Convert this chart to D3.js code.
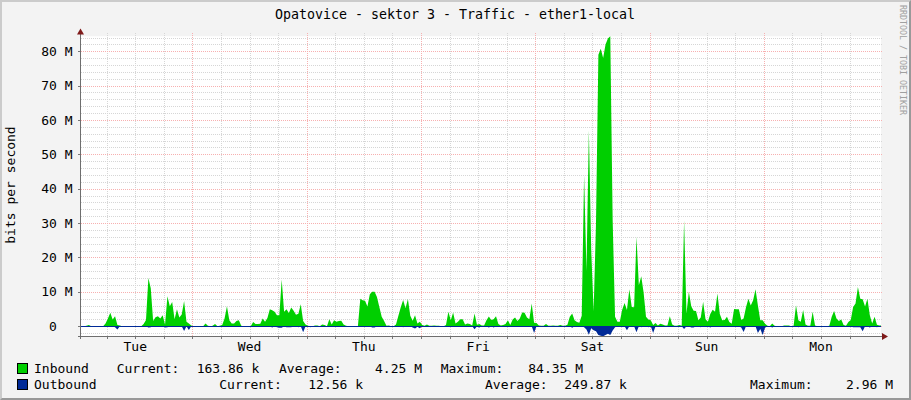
<!DOCTYPE html>
<html lang="en">
<head>
    <meta charset="UTF-8">
    <title>Opatovice - sektor 3 - Traffic - ether1-local</title>
    <script src="https://d3js.org/d3.v7.min.js"></script>
    <style>
        body{margin:0;background:#f3f3f3;}
        svg{display:block;}
        text{font-family:"DejaVu Sans Mono",monospace;font-size:13px;fill:#000;}
    </style>
</head>
<body>
<svg id="chart" width="911" height="400"></svg>
</body>
<script>
    const chartTitle = 'Opatovice - sektor 3 - Traffic - ether1-local';
    const yTitle = 'bits per second';
    const watermark = 'RRDTOOL / TOBI OETIKER';
    const dayLabels = ['Tue','Wed','Thu','Fri','Sat','Sun','Mon'];
    const yMajorTicks = [0,10,20,30,40,50,60,70,80];

    // half hour samples in Mbit/s, one list per day
    const inTue = [0,0,0,.1,.3,0,0,0,0,0,0,.8,2.2,3.9,1.9,2.9,.3,.2,0,0,0,0,0,0,0,0,0,.6,1.8,14,11,1.5,2.6,2.9,2.2,3.2,.4,8.7,5.8,7,2,4.9,2.5,3.4,7.3,1.3,.8,.2];
    const inWed = [0,0,0,0,0,.8,.1,0,.1,.6,0,.1,.3,2.2,5.8,1.7,.8,.8,1.5,1.7,.1,0,0,0,0,1.2,.6,.6,.7,2.2,1.3,2.4,4.9,4.6,4.2,3.2,3.2,13.6,4.2,4.9,3.8,5.4,4.5,3.3,3.6,6.4,1.5,.5];
    const inThu = [.1,0,0,.2,.2,0,.5,.3,0,2,.5,1.7,1.3,1.5,1.6,.5,.1,0,0,0,0,0,8,7.5,7.4,5.7,9.3,10,10,8.5,5.6,2.7,1.5,.1,.2,0,0,.5,3,5.5,7.6,5.2,7.9,3,1.6,3.2,.8,1.3];
    const inFri = [.3,.1,.5,.1,.1,.2,.1,.1,0,0,.3,4.2,1.7,4,.8,1.3,2,2,.5,.8,.6,.2,3.7,.4,.6,.2,.2,1.7,2.8,1.8,2,2.9,.6,.2,.3,.6,1.7,.3,1.9,2.5,1.5,2.2,4,3.9,2.5,2,6.6,1];
    const inSat = [.9,.2,.1,.1,.6,.1,.1,.2,.1,.1,.3,.1,.1,.4,2.7,3.7,1.7,1.2,1,3,44,16,57,22,4.4,30,79,80.7,78,82,83.7,84.35,30.8,2.7,1.3,1.3,4.8,6.7,4.7,10.7,5.6,5.5,26,11.9,14.5,9.8,2.7,1.9];
    const inSun = [1.7,.3,.9,.2,.7,.5,.2,.2,2.9,.5,.1,.1,.3,.1,30.8,3.7,10,5.8,4.5,4.4,1.7,2.5,7.1,2,1.3,3.5,4.8,4.2,9.5,3.5,1.7,1.8,2.7,1.2,.7,5,4.9,4.9,1.8,2.2,5.5,8,6,7.5,10.7,6,1.7,1.7];
    const inMon = [.7,.1,0,.8,.1,0,0,0,.2,.2,.2,0,.1,6.1,1.7,1.3,4.7,.5,.1,.1,4.2,.2,0,0,0,0,0,.1,2.7,4.4,2.2,1.5,1.9,.3,.1,1.2,1.8,5.6,6.6,11.4,8,7.8,5.7,8,3.2,.8,2.7,.4];
    const inEnd = [.2,.16,.16];

    const outTue = [0,0,0,0,0,0,0,0,0,0,0,0,0,0,0,.3,1,0,0,0,0,0,0,0,0,0,0,0,0,.4,.3,0,0,0,0,0,.4,.3,0,0,0,0,0,0,1.4,0,1.1,0];
    const outWed = [0,0,0,0,0,0,0,0,0,0,0,0,0,0,0,0,0,0,0,0,0,0,0,0,0,0,0,0,0,0,0,0,0,.4,0,.3,.5,.5,0,.3,.3,.3,0,0,.3,0,1.8,0];
    const outThu = [0,.3,0,0,0,0,0,0,0,0,0,0,0,0,0,0,0,0,0,0,0,0,0,0,0,0,0,.4,.4,0,0,0,0,0,0,0,0,0,0,0,.3,0,0,0,.4,.7,.2,.6];
    const outFri = [0,0,0,0,0,0,0,0,0,0,0,0,0,0,0,0,0,0,0,0,0,0,.9,0,.4,0,0,0,.4,0,.4,0,0,0,0,0,0,0,0,0,0,0,0,0,0,0,0,2];
    const outSat = [0,0,0,0,0,0,0,0,0,0,0,0,0,0,0,.5,0,0,0,0,.3,1,2.5,.6,1.2,1.5,2.6,2.8,2.96,2.6,2.2,2.6,1.3,.3,0,0,0,0,1.2,0,0,0,1.8,0,.3,0,0,.3];
    const outSun = [0,2,0,0,0,0,0,0,0,0,0,0,0,0,.8,0,0,.4,.4,0,0,.3,0,0,0,.4,0,0,0,0,0,0,0,0,0,0,0,0,.4,1.7,0,0,0,0,0,2,.8,2.6];
    const outMon = [.5,0,0,.4,0,0,0,0,0,0,0,0,0,0,.3,0,0,0,0,0,0,0,0,0,0,0,0,0,0,0,0,0,0,0,0,0,0,.3,.3,.3,.3,1.5,0,0,.4,0,0,.3];
    const outEnd = [0,.01,.01];

    const legendInbound = ['Inbound','Current:','163.86 k','Average:','4.25 M','Maximum:','84.35 M'];
    const legendOutbound = ['Outbound','Current:','12.56 k','Average:','249.87 k','Maximum:','2.96 M'];

    const inbound = [].concat(inTue,inWed,inThu,inFri,inSat,inSun,inMon,inEnd);
    const outbound = [].concat(outTue,outWed,outThu,outFri,outSat,outSun,outMon,outEnd);

    const plotLeft = 81, plotRight = 881, plotTop = 36.3, plotBottom = 336.3;
    // hours counted from Tuesday 00:00
    let x = d3.scaleLinear().domain([0.6,168.6]).range([plotLeft,plotRight]);
    let y = d3.scaleLinear().domain([-2.96,84.35]).range([plotBottom,plotTop]);
    // a sample sits in the middle of its half hour
    let hourOf = i => i*0.5+0.25;

    let svg = d3.select('#chart');
    svg.append('rect').attr('width',911).attr('height',400).attr('fill','#cbcbcb');
    svg.append('path').attr('d','M911 0V400H0L2 398H909V2Z').attr('fill','#999999');
    svg.append('rect').attr('x',2).attr('y',2).attr('width',907).attr('height',396).attr('fill','#f3f3f3');
    svg.append('rect').attr('x',plotLeft).attr('y',plotTop).attr('width',plotRight-plotLeft).attr('height',plotBottom-plotTop).attr('fill','#ffffff');

    svg.append('clipPath').attr('id','plot').append('rect')
        .attr('x',plotLeft).attr('y',plotTop-1).attr('width',plotRight-plotLeft).attr('height',plotBottom-plotTop+1);

    // grid
    let hours6 = d3.range(6,168,6);
    let hours24 = d3.range(24,168,24);
    let minorY = d3.range(-2,85,2).filter(v => v%10!==0);
    let grid = svg.append('g').attr('shape-rendering','crispEdges').attr('stroke-dasharray','1,1');
    grid.selectAll('.hmin').data(minorY).enter().append('line')
        .attr('x1',plotLeft).attr('x2',plotRight+2)
        .attr('y1',d => Math.round(y(d))+.5).attr('y2',d => Math.round(y(d))+.5)
        .attr('stroke','#d6d6d6');
    grid.selectAll('.vmin').data(hours6.filter(h => h%24!==0)).enter().append('line')
        .attr('x1',d => Math.round(x(d))+.5).attr('x2',d => Math.round(x(d))+.5)
        .attr('y1',plotTop-3).attr('y2',plotBottom)
        .attr('stroke','#d6d6d6');
    grid.selectAll('.hmaj').data(yMajorTicks).enter().append('line')
        .attr('x1',plotLeft).attr('x2',plotRight+2)
        .attr('y1',d => Math.round(y(d))+.5).attr('y2',d => Math.round(y(d))+.5)
        .attr('stroke','#f7b0b0');
    grid.selectAll('.vmaj').data(hours24).enter().append('line')
        .attr('x1',d => Math.round(x(d))+.5).attr('x2',d => Math.round(x(d))+.5)
        .attr('y1',plotTop-3).attr('y2',plotBottom)
        .attr('stroke','#f7b0b0');

    // traffic
    let plot = svg.append('g').attr('clip-path','url(#plot)');
    let inArea = d3.area()
        .x((d,i) => x(hourOf(i))).y0(y(0)).y1(d => y(d));
    let outArea = d3.area()
        .x((d,i) => x(hourOf(i))).y0(y(0)).y1(d => y(-d));
    plot.append('path').datum(inbound).attr('d',inArea).attr('fill','#00CF00');
    plot.append('path').datum(outbound).attr('d',outArea).attr('fill','#002A97');
    plot.append('line').attr('x1',plotLeft).attr('x2',plotRight)
        .attr('y1',Math.round(y(0))+.5).attr('y2',Math.round(y(0))+.5)
        .attr('stroke','#002A97').attr('shape-rendering','crispEdges');

    // axes
    let yAxis = d3.axisLeft(y).tickValues(yMajorTicks).tickSize(3).tickPadding(5)
        .tickFormat(d => d===0 ? '0\u00a0\u00a0' : d+' M');
    let yG = svg.append('g').attr('transform','translate('+(plotLeft-.5)+',0)').call(yAxis);
    yG.select('.domain').remove();
    yG.selectAll('.tick line').attr('stroke','#777777').attr('shape-rendering','crispEdges');
    yG.selectAll('text').style('font-family','"DejaVu Sans Mono",monospace').style('font-size','13px');

    let xAxis = d3.axisBottom(x).tickValues(hours6).tickSize(2).tickFormat('');
    let xG = svg.append('g').attr('transform','translate(0,'+(Math.round(plotBottom)+.5)+')').call(xAxis);
    xG.select('.domain').remove();
    xG.selectAll('.tick line').attr('stroke','#777777').attr('shape-rendering','crispEdges');

    svg.append('line').attr('x1',plotLeft-3).attr('x2',plotRight+3)
        .attr('y1',Math.round(plotBottom)+.5).attr('y2',Math.round(plotBottom)+.5)
        .attr('stroke','#6e6e6e').attr('shape-rendering','crispEdges');
    svg.append('line').attr('x1',plotLeft-.5).attr('x2',plotLeft-.5).attr('y1',plotTop-4).attr('y2',plotBottom+3)
        .attr('stroke','#6e6e6e').attr('shape-rendering','crispEdges');
    svg.append('path').attr('d','M'+(plotLeft-.5)+' 28.5l3.5 6h-7z').attr('fill','#7f1a1a');
    svg.append('path').attr('d','M888 '+(Math.round(plotBottom)+.5)+'l-6 -3.5v7z').attr('fill','#7f1a1a');

    svg.selectAll('.day').data(dayLabels).enter().append('text')
        .attr('x',(d,i) => x(12+24*i)).attr('y',351).attr('text-anchor','middle').text(d => d);

    // titles
    svg.append('text').attr('x',455).attr('y',19).attr('text-anchor','middle')
        .style('font-size','13.3px').text(chartTitle);
    svg.append('text').attr('transform','translate(15,185) rotate(-90)')
        .attr('text-anchor','middle').text(yTitle);
    svg.append('text').attr('transform','translate(900,5) rotate(90)')
        .style('font-size','8.3px').style('fill','#a0a0a0').text(watermark);

    // legend
    const legendColors = ['#00CF00','#002A97'];
    const legendY = [372,388];
    const legendX = [[34,116.7,196.7,279,375,440.7,528.3],[34,219.3,308.3,485,564.3,750,846]];
    [legendInbound,legendOutbound].forEach((row,r) => {
        svg.append('rect').attr('x',17.5).attr('y',legendY[r]-8.5).attr('width',10).attr('height',10)
            .attr('fill',legendColors[r]).attr('stroke','#000').attr('shape-rendering','crispEdges');
        row.forEach((t,i) => {
            svg.append('text').attr('x',legendX[r][i]).attr('y',legendY[r]+.5).text(t);
        });
    });
</script>
</html>
